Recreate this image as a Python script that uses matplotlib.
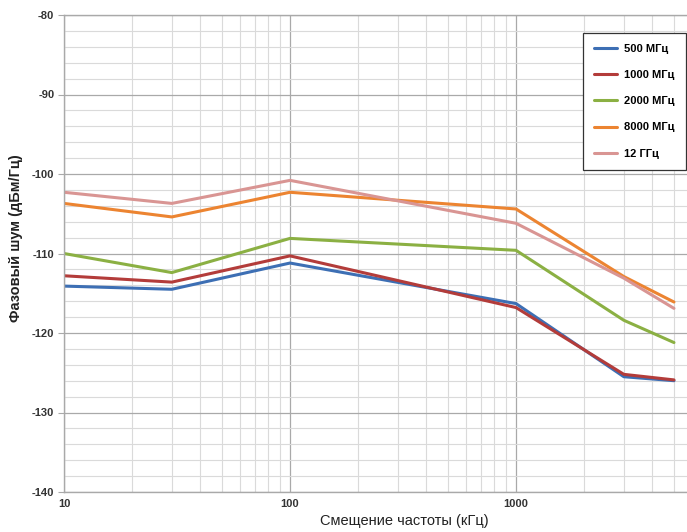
import matplotlib
matplotlib.use("Agg")
import matplotlib.pyplot as plt
from matplotlib.ticker import FixedLocator, NullFormatter

plt.rcParams['font.family'] = ['Liberation Sans', 'DejaVu Sans']
plt.rcParams['axes.unicode_minus'] = False

# offset frequency, kHz
offsets = [10, 30, 100, 1000, 3000, 5000]

# phase noise, dBc/Hz
noise_500 = [-114.1, -114.5, -111.2, -116.3, -125.5, -126.0]
noise_1000 = [-112.8, -113.6, -110.3, -116.8, -125.2, -125.9]
noise_2000 = [-110.0, -112.4, -108.1, -109.6, -118.4, -121.2]
noise_8000 = [-103.7, -105.4, -102.3, -104.4, -112.9, -116.1]
noise_12g = [-102.3, -103.7, -100.8, -106.2, -113.1, -116.9]

labels = ["500 МГц", "1000 МГц", "2000 МГц", "8000 МГц", "12 ГГц"]
colors = ["#3d6fb4", "#b33c3a", "#8bb043", "#ec8431", "#d99593"]

fig = plt.figure(figsize=(6.87, 5.32), dpi=100)
ax = fig.add_axes([64 / 687, 1 - 492 / 532, 1 - 64 / 687, (492 - 15) / 532])

series = [noise_500, noise_1000, noise_2000, noise_8000, noise_12g]
for vals, lab, col in zip(series, labels, colors):
    ax.plot(offsets, vals, color=col, lw=2.2, label=lab, solid_capstyle="round")

ax.set_xscale("log")
ax.set_xlim(10, 10 ** (1 + 623 / 226))
ax.set_ylim(-140, -80)

ax.set_yticks(range(-140, -79, 10))
ax.yaxis.set_minor_locator(FixedLocator(range(-140, -79, 2)))
ax.set_xticks([10, 100, 1000])
ax.set_xticklabels(["10", "100", "1000"])
ax.xaxis.set_minor_formatter(NullFormatter())

ax.grid(which="minor", color="#dadada", lw=0.8)
ax.grid(which="major", color="#a9a9a9", lw=0.9)
ax.set_axisbelow(True)

ax.spines["right"].set_visible(False)
for s in ["left", "bottom", "top"]:
    ax.spines[s].set_color("#a9a9a9")
    ax.spines[s].set_linewidth(1.0)

ax.tick_params(axis="y", which="major", length=4, color="#a9a9a9", labelsize=8, pad=3)
ax.tick_params(axis="x", which="major", length=0, labelsize=8, pad=5)
ax.tick_params(which="minor", length=0)
for t in ax.get_xticklabels() + ax.get_yticklabels():
    t.set_fontweight("bold")
    t.set_color("#333333")

fig.text(404 / 687, 1 - 521 / 532, "Смещение частоты (кГц)", fontsize=10.5,
         ha="center", va="center", color="#222222")
fig.text(16 / 687, 1 - 238 / 532, "Фазовый шум (дБм/Гц)", fontsize=10.5,
         ha="center", va="center", rotation=90, color="#222222", fontweight="bold")

leg = ax.legend(loc="upper right", bbox_to_anchor=(1 - 1 / 623, 1 - 18 / 477),
                fancybox=False, framealpha=1, edgecolor="#333333",
                prop={"size": 8, "weight": "bold"}, handlelength=2.0,
                labelspacing=1.45, borderpad=1.0, handletextpad=0.7,
                borderaxespad=0)
leg.get_frame().set_linewidth(0.9)

fig.savefig("out.png", dpi=100)
